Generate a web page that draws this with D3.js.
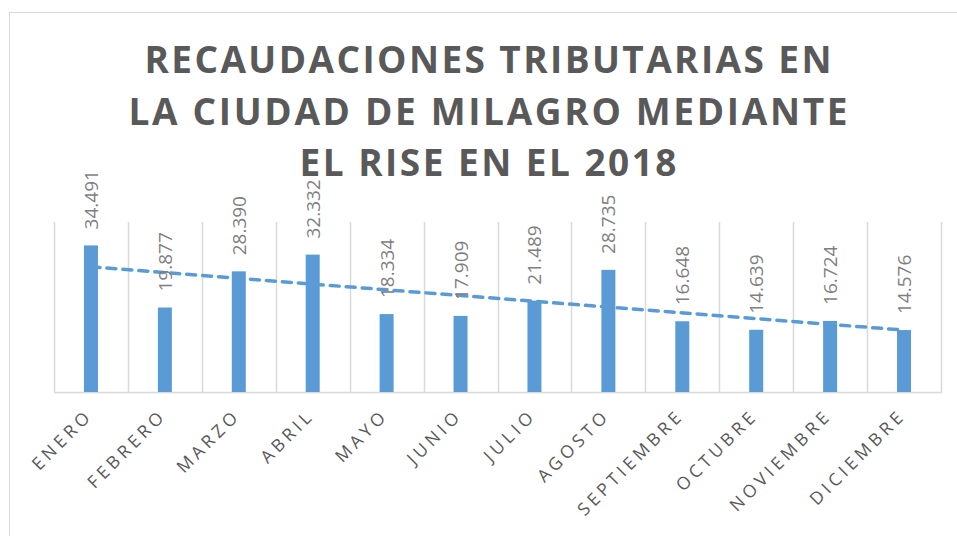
<!DOCTYPE html>
<html>
<head>
<meta charset="utf-8">
<script src="https://cdn.jsdelivr.net/npm/d3@7"></script>
<style>
	body { margin: 0; background: #fff; }
	svg { display: block; font-family: "Open Sans", sans-serif; }
</style>
</head>
<body>
<div id="chart"></div>
<script>
// data
var months = ["ENERO", "FEBRERO", "MARZO", "ABRIL", "MAYO", "JUNIO", "JULIO",
	"AGOSTO", "SEPTIEMBRE", "OCTUBRE", "NOVIEMBRE", "DICIEMBRE"];
var values = [34.491, 19.877, 28.390, 32.332, 18.334, 17.909, 21.489,
	28.735, 16.648, 14.639, 16.724, 14.576];
var valueLabels = ["34.491", "19.877", "28.390", "32.332", "18.334", "17.909",
	"21.489", "28.735", "16.648", "14.639", "16.724", "14.576"];
var titleLines = ["RECAUDACIONES TRIBUTARIAS EN", "LA CIUDAD DE MILAGRO MEDIANTE", "EL RISE EN EL 2018"];
var yMax = 40;

(function() {
	var width = 957,
		height = 536;
	var left = 54, right = 941, top = 222, bottom = 392;

	var svg = d3.select("#chart").append("svg")
		.attr("width", width)
		.attr("height", height);

	// chart area border
	svg.append("rect")
		.attr("x", 9.5).attr("y", 12.5)
		.attr("width", 1000).attr("height", 600)
		.attr("fill", "#fff")
		.attr("stroke", "#d9d9d9");

	// title
	var titleWidths = [687, 719, 377];
	svg.append("g").selectAll("text")
		.data(titleLines)
		.enter().append("text")
		.attr("x", 488)
		.attr("y", function(d, i) { return 73 + i * 51.7; })
		.attr("text-anchor", "middle")
		.attr("textLength", function(d, i) { return titleWidths[i]; })
		.attr("lengthAdjust", "spacing")
		.style("font-size", "37px")
		.style("font-weight", "bold")
		.style("fill", "#595959")
		.text(function(d) { return d; });

	var x = d3.scaleBand().domain(months).range([left, right]);
	var y = d3.scaleLinear().domain([0, yMax]).range([bottom, top]);

	// vertical gridlines at category edges
	var edges = months.map(function(m) { return x(m); }).concat([right]);
	svg.append("g").selectAll("line")
		.data(edges)
		.enter().append("line")
		.attr("x1", function(d) { return Math.round(d) + 0.5; })
		.attr("x2", function(d) { return Math.round(d) + 0.5; })
		.attr("y1", top).attr("y2", bottom)
		.attr("stroke", "#d9d9d9")
		.attr("stroke-width", 1.5);

	// base line
	svg.append("line")
		.attr("x1", left).attr("x2", right + 1)
		.attr("y1", bottom + 0.5).attr("y2", bottom + 0.5)
		.attr("stroke", "#d9d9d9")
		.attr("stroke-width", 1.5);

	// bars
	var bw = 14;
	svg.append("g").selectAll("rect")
		.data(values)
		.enter().append("rect")
		.attr("x", function(d, i) { return x(months[i]) + x.bandwidth() / 2 - bw / 2; })
		.attr("y", function(d) { return y(d); })
		.attr("width", bw)
		.attr("height", function(d) { return bottom - y(d); })
		.attr("fill", "#5b9bd5");

	// linear trend line
	var n = values.length,
		mx = (n + 1) / 2,
		my = d3.mean(values),
		sxy = d3.sum(values, function(v, i) { return (i + 1 - mx) * (v - my); }),
		sxx = d3.sum(values, function(v, i) { return (i + 1 - mx) * (i + 1 - mx); }),
		slope = sxy / sxx;
	var trend = [1, n].map(function(k) { return [k, my + slope * (k - mx)]; });
	var line = d3.line()
		.x(function(d) { return x(months[d[0] - 1]) + x.bandwidth() / 2; })
		.y(function(d) { return y(d[1]); });
	svg.append("path")
		.datum(trend)
		.attr("d", line)
		.attr("fill", "none")
		.attr("stroke", "#5b9bd5")
		.attr("stroke-width", 3.5)
		.attr("stroke-dasharray", "9,7")
		.attr("stroke-linecap", "round");

	// value labels
	svg.append("g").selectAll("text")
		.data(values)
		.enter().append("text")
		.attr("transform", function(d, i) {
			var cx = x(months[i]) + x.bandwidth() / 2 + 7;
			return "translate(" + cx + "," + (y(d) - 16) + ") rotate(-90)";
		})
		.style("font-size", "19px")
		.style("fill", "#7f7f7f")
		.text(function(d, i) { return valueLabels[i]; });

	// category labels
	svg.append("g").selectAll("text")
		.data(months)
		.enter().append("text")
		.attr("transform", function(d) {
			var cx = x(d) + x.bandwidth() / 2 - 6;
			return "translate(" + cx + "," + 408 + ") rotate(-45)";
		})
		.attr("text-anchor", "end")
		.attr("dy", "0.7em")
		.style("font-size", "17.5px")
		.style("letter-spacing", "4px")
		.style("fill", "#595959")
		.text(function(d) { return d; });
})();
</script>
</body>
</html>
